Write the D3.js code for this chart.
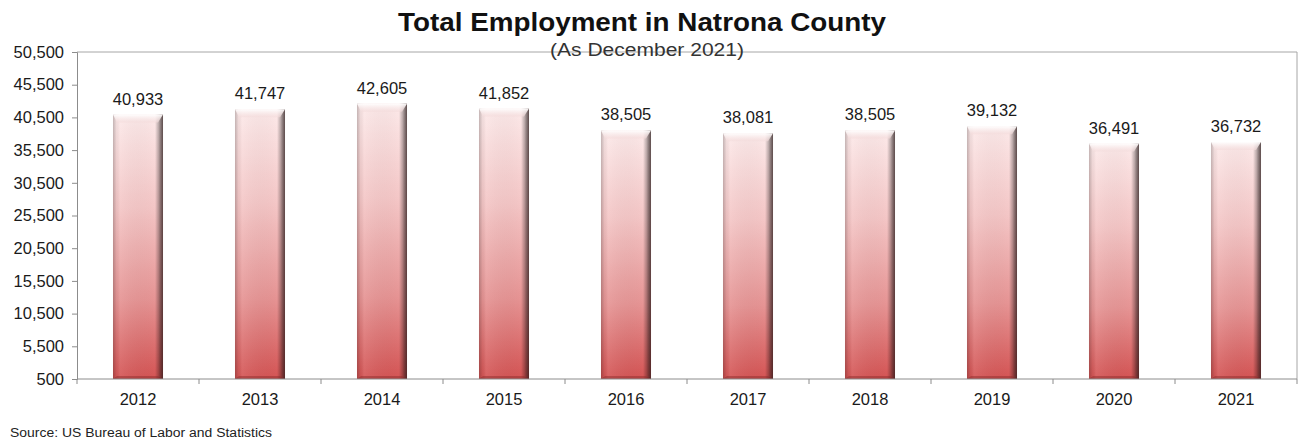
<!DOCTYPE html>
<html>
<head>
<meta charset="utf-8">
<script src="https://cdn.jsdelivr.net/npm/d3@7"></script>
<style>
  html, body { margin: 0; padding: 0; background: #fff; }
  svg { display: block; font-family: "Liberation Sans", Arial, sans-serif; }
</style>
</head>
<body>
<svg id="chart" width="1301" height="443"></svg>
<script>
// Total employment by year (December figures)
const years = ["2012", "2013", "2014", "2015", "2016", "2017", "2018", "2019", "2020", "2021"];
const employment = [40933, 41747, 42605, 41852, 38505, 38081, 38505, 39132, 36491, 36732];
const yTicks = [500, 5500, 10500, 15500, 20500, 25500, 30500, 35500, 40500, 45500, 50500];

const svg = d3.select("#chart");
const margin = { left: 77, right: 4, top: 52, bottom: 64 };
const W = 1301, H = 443;
const x0 = margin.left, x1 = W - margin.right;
const y0 = H - margin.bottom, y1 = margin.top;

const x = d3.scaleBand().domain(years).range([x0, x1]).paddingInner(0.59).paddingOuter(0.295);
const y = d3.scaleLinear().domain([500, 50500]).range([y0, y1]);

// gradients
const defs = svg.append("defs");
const vg = defs.append("linearGradient").attr("id", "barFill").attr("x1", 0).attr("y1", 0).attr("x2", 0).attr("y2", 1);
vg.append("stop").attr("offset", "0%").attr("stop-color", "#fce9e9");
vg.append("stop").attr("offset", "35%").attr("stop-color", "#f4c6c6");
vg.append("stop").attr("offset", "70%").attr("stop-color", "#e69494");
vg.append("stop").attr("offset", "100%").attr("stop-color", "#d45454");

const hg = defs.append("linearGradient").attr("id", "barShade").attr("x1", 0).attr("y1", 0).attr("x2", 1).attr("y2", 0);
hg.append("stop").attr("offset", "0%").attr("stop-color", "#000").attr("stop-opacity", 0.22);
hg.append("stop").attr("offset", "7%").attr("stop-color", "#000").attr("stop-opacity", 0.05);
hg.append("stop").attr("offset", "14%").attr("stop-color", "#fff").attr("stop-opacity", 0.08);
hg.append("stop").attr("offset", "84%").attr("stop-color", "#000").attr("stop-opacity", 0.0);
hg.append("stop").attr("offset", "91%").attr("stop-color", "#000").attr("stop-opacity", 0.25);
hg.append("stop").attr("offset", "100%").attr("stop-color", "#2a1a1a").attr("stop-opacity", 0.75);

const bev = defs.append("linearGradient").attr("id", "bevelTop").attr("x1", 0).attr("y1", 0).attr("x2", 0).attr("y2", 1);
bev.append("stop").attr("offset", "0%").attr("stop-color", "#ffffff").attr("stop-opacity", 0.95);
bev.append("stop").attr("offset", "100%").attr("stop-color", "#f3dada").attr("stop-opacity", 0.6);

// plot frame (top and right)
svg.append("path")
  .attr("d", `M${x0},${y1}H${x1}V${y0}`)
  .attr("fill", "none").attr("stroke", "#a6a6a6").attr("stroke-width", 1);

// y axis
const yAxis = svg.append("g").attr("transform", `translate(${x0},0)`)
  .call(d3.axisLeft(y).tickValues(yTicks).tickSize(5).tickPadding(8).tickFormat(d3.format(",")));
yAxis.select(".domain").attr("stroke", "#8c8c8c");
yAxis.selectAll(".tick line").attr("stroke", "#8c8c8c");
yAxis.selectAll(".tick text").attr("font-size", 16.5).attr("fill", "#1a1a1a")
  .attr("font-family", "'Liberation Sans', Arial, sans-serif");

// bars
const bars = svg.append("g").selectAll("g").data(years).join("g");
bars.each(function (d, i) {
  const g = d3.select(this);
  const bx = x(d), bw = x.bandwidth();
  const top = y(employment[i]);
  const h = y0 - top;
  g.append("rect").attr("x", bx).attr("y", top).attr("width", bw).attr("height", h).attr("fill", "url(#barFill)");
  g.append("rect").attr("x", bx).attr("y", top).attr("width", bw).attr("height", h).attr("fill", "url(#barShade)");
  const b = 8;
  g.append("path")
    .attr("d", `M${bx},${top}H${bx + bw}L${bx + bw - 5},${top + b}H${bx + 4}Z`)
    .attr("fill", "url(#bevelTop)");
  g.append("path")
    .attr("d", `M${bx + 4},${y0 - 3}H${bx + bw - 5}L${bx + bw},${y0}H${bx}Z`)
    .attr("fill", "#8a2a2a").attr("opacity", 0.45);
  g.append("text")
    .attr("x", bx + bw / 2).attr("y", top - 10)
    .attr("text-anchor", "middle").attr("font-size", 16.5).attr("fill", "#1a1a1a")
    .text(d3.format(",")(employment[i]));
});

// x axis
const xAxis = svg.append("g").attr("transform", `translate(0,${y0})`)
  .call(d3.axisBottom(x).tickSize(0).tickPadding(14));
xAxis.select(".domain").remove();
xAxis.append("line").attr("x1", x0).attr("x2", x1).attr("stroke", "#8c8c8c");
const step = (x1 - x0) / years.length;
xAxis.selectAll(".sep").data(d3.range(years.length + 1)).join("line")
  .attr("class", "sep")
  .attr("x1", i => x0 + i * step).attr("x2", i => x0 + i * step)
  .attr("y1", 0).attr("y2", 5).attr("stroke", "#8c8c8c");
xAxis.selectAll(".tick text").attr("font-size", 16.5).attr("fill", "#1a1a1a")
  .attr("font-family", "'Liberation Sans', Arial, sans-serif");

// titles
svg.append("text").attr("x", 642).attr("y", 31).attr("text-anchor", "middle")
  .attr("font-size", 25).attr("font-weight", "bold").attr("fill", "#111")
  .attr("textLength", 488).attr("lengthAdjust", "spacingAndGlyphs")
  .text("Total Employment in Natrona County");
svg.append("text").attr("x", 647).attr("y", 56).attr("text-anchor", "middle")
  .attr("font-size", 18).attr("fill", "#333")
  .attr("textLength", 194).attr("lengthAdjust", "spacingAndGlyphs")
  .text("(As December 2021)");

// source note
svg.append("text").attr("x", 10).attr("y", 437)
  .attr("font-size", 12.5).attr("fill", "#222")
  .attr("textLength", 262).attr("lengthAdjust", "spacingAndGlyphs")
  .text("Source: US Bureau of Labor and Statistics");
</script>
</body>
</html>
